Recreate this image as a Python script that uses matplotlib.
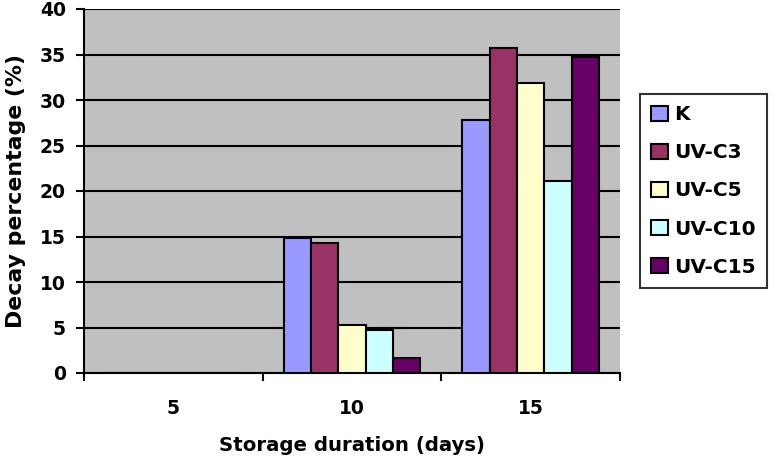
import matplotlib
matplotlib.use("Agg")
import matplotlib.pyplot as plt
import numpy as np

plt.rcParams['font.family'] = ['DejaVu Sans']
plt.rcParams['font.weight'] = 'bold'

categories = ["5", "10", "15"]
series_names = ["K", "UV-C3", "UV-C5", "UV-C10", "UV-C15"]
K = [0, 14.8, 27.8]
UVC3 = [0, 14.3, 35.7]
UVC5 = [0, 5.3, 31.9]
UVC10 = [0, 4.7, 21.1]
UVC15 = [0, 1.6, 34.7]
values = [K, UVC3, UVC5, UVC10, UVC15]
colors = ["#9999FF", "#993366", "#FFFFCC", "#CCFFFF", "#660066"]

fig = plt.figure(figsize=(7.74, 4.72), dpi=100)
ax = fig.add_axes([84/774, 1-373/472, (620-84)/774, (373-9)/472])
ax.set_facecolor("#C0C0C0")

x = np.arange(len(categories))
n = len(series_names)
group_w = 0.765
w = group_w / n
for i, (name, vals, c) in enumerate(zip(series_names, values, colors)):
    pos = x - group_w/2 + w*(i+0.5)
    ax.bar(pos, vals, width=w, color=c, edgecolor="black", linewidth=1.5, label=name, zorder=3)

ax.set_xlim(-0.5, 2.5)
ax.set_ylim(0, 40)
ax.set_yticks(np.arange(0, 41, 5))
ax.yaxis.grid(True, color="black", linewidth=1.5, zorder=1)
ax.set_axisbelow(True)

ax.set_xticks([-0.5, 0.5, 1.5, 2.5])
ax.set_xticklabels([])
ax.set_xticks(x, minor=True)
ax.set_xticklabels(categories, minor=True)
ax.tick_params(axis='x', which='minor', length=0, pad=19, labelsize=13.5)
ax.tick_params(axis='x', which='major', length=6, width=1.5, direction='out', color="black")
ax.tick_params(axis='y', length=6, width=1.5, direction='out', labelsize=13.5, pad=7)

for s in ['top', 'right']:
    ax.spines[s].set_visible(False)
ax.spines['left'].set_linewidth(1.5)
ax.spines['bottom'].set_linewidth(1.5)

ax.set_ylabel("Decay percentage (%)", fontsize=15.8, fontweight='bold', labelpad=10)
ax.set_xlabel("Storage duration (days)", fontsize=14.2, fontweight='bold', labelpad=13)

leg = fig.legend(loc='center left', bbox_to_anchor=(640/774, 1-191/472), frameon=True,
                 fancybox=False, edgecolor="black", fontsize=14.5, handlelength=0.8,
                 handleheight=0.8, handletextpad=0.3, labelspacing=0.945, borderpad=0.57,
                 borderaxespad=0)
leg.get_frame().set_linewidth(1.5)
for h in leg.legend_handles:
    h.set_linewidth(1.5)

fig.savefig("out.png", dpi=100)
